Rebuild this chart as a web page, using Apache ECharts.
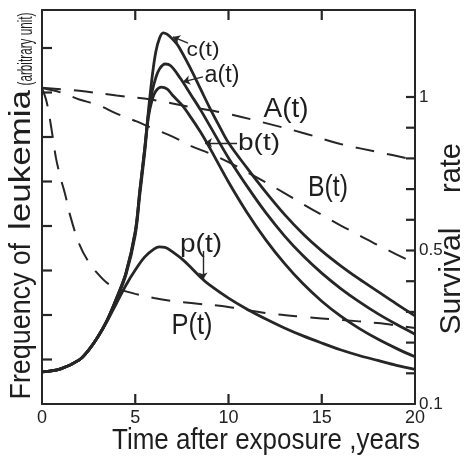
<!DOCTYPE html>
<html><head><meta charset="utf-8">
<script src="https://cdn.jsdelivr.net/npm/echarts@6.0.0/dist/echarts.min.js"></script>
<style>html,body{margin:0;padding:0;background:#fff}#c{width:465px;height:464px}</style>
</head><body><div id="c"></div>
<script>
// ---- data (time in years) ----
const xTicks = [0, 5, 10, 15, 20];
const xInnerTicks = [5, 10, 15];
const leftTicks = [1, 2, 3, 4, 5, 6, 7, 8];
const survivalTickSteps = [1, 2, 3, 4, 5, 6, 7, 8, 9, 10];
const survivalTickLabels = ['0.1', '0.5', '1'];

// leukemia frequency (arbitrary unit), left axis
const tC = [0,1,2,2.5,3,3.5,4,4.5,5,5.25,5.5,5.7,5.9,6.1,6.3,6.5,6.7,7,7.3,8,8.5,9,9.5,10,11,12,13,14,15,16,17,18,19,20];
const fC = [0.72,0.79,0.99,1.21,1.51,1.89,2.38,2.94,3.87,4.81,5.71,6.56,7.33,7.91,8.22,8.34,8.31,8.20,8.05,7.51,7.08,6.65,6.25,5.87,5.30,4.76,4.26,3.82,3.44,3.11,2.81,2.53,2.25,1.98];
const tA = [0,1,2,2.5,3,3.5,4,4.5,5,5.25,5.5,5.7,5.9,6.1,6.3,6.6,6.9,7.4,8,8.5,9,10,11,12,13,14,15,16,17,18,19,20];
const fA = [0.72,0.79,0.99,1.21,1.51,1.89,2.38,2.94,3.87,4.81,5.71,6.49,7.01,7.33,7.53,7.64,7.60,7.33,6.94,6.61,6.25,5.53,4.89,4.30,3.78,3.33,2.94,2.60,2.30,2.03,1.79,1.57];
const tB = [0,1,2,2.5,3,3.5,4,4.5,5,5.25,5.5,5.7,5.9,6.1,6.4,6.7,7,7.5,8,8.5,9,10,11,12,13,14,15,16,17,18,19,20];
const fB = [0.72,0.79,0.99,1.21,1.51,1.88,2.36,2.90,3.80,4.72,5.62,6.43,6.83,7.03,7.12,7.08,6.94,6.72,6.43,6.11,5.75,4.99,4.30,3.69,3.16,2.70,2.31,1.98,1.70,1.46,1.25,1.06];
const tP = [0,1,2,2.5,3,3.5,4,4.5,5,5.5,6,6.3,6.6,7,7.5,8,8.5,9,10,11,12,13,14,15,16,17,18,19,20];
const fP = [0.72,0.79,0.99,1.21,1.51,1.87,2.27,2.67,3.01,3.30,3.48,3.53,3.52,3.42,3.26,3.06,2.85,2.67,2.38,2.13,1.91,1.71,1.53,1.37,1.22,1.09,0.98,0.87,0.78];

// survival rate, right axis
const tSA = [0,2,4,6,8,10,12,14,16,18,20];
const sA  = [1.03,1.02,1.005,0.99,0.967,0.945,0.915,0.883,0.847,0.821,0.795];
const tSB = [0,1,2,3,4,5,6,7,8,9,10,11,12,13,14,15,16,17,18,19,20];
const sB  = [1.029,1.015,0.992,0.974,0.946,0.922,0.896,0.871,0.840,0.816,0.788,0.755,0.722,0.687,0.651,0.616,0.582,0.550,0.518,0.490,0.467];
const tSP = [0,0.25,0.5,0.75,1,1.25,1.5,2,2.5,3,3.5,4,5,6,7,8,10,12,14,16,18,20];
const sP  = [1.029,0.984,0.899,0.801,0.736,0.681,0.616,0.521,0.470,0.439,0.415,0.402,0.387,0.376,0.368,0.363,0.353,0.337,0.327,0.319,0.311,0.298];

// ---- helpers ----
const INK = '#262626';
const X_MAX = 20, LEFT_MAX = 8.854, RIGHT_MAX = 12.834;
const zip = (xs, ys) => xs.map((x, i) => [x, ys[i]]);
// right axis is drawn with 10 equal steps: 0.1 .. 0.5 (steps of 0.08), 0.5 .. 1 (steps of 0.1)
const survPos = s => s <= 0.5 ? (s - 0.1) / 0.08 : 5 + (s - 0.5) / 0.1;
const survLabelAt = {0: survivalTickLabels[0], 5: survivalTickLabels[1], 10: survivalTickLabels[2]};
const zipS = (xs, ys) => xs.map((x, i) => [x, survPos(ys[i])]);

const solid = (name, data) => ({
  name, type: 'line', data, yAxisIndex: 0, xAxisIndex: 0, showSymbol: false,
  smooth: 0.35, silent: true,
  lineStyle: {color: INK, width: 2.8}
});
const dashed = (name, data) => ({
  name, type: 'line', data, yAxisIndex: 1, xAxisIndex: 0, showSymbol: false,
  smooth: 0.35, silent: true,
  lineStyle: {color: INK, width: 2, type: [19, 13]}
});

const axisLineStyle = {color: INK, width: 2};
const labelFont = "'Liberation Sans Narrow','Liberation Sans',Arial,sans-serif";

const chart = echarts.init(document.getElementById('c'), null, {renderer: 'canvas'});
const seriesC = solid('c(t)', zip(tC, fC));
seriesC.markLine = {
  silent: true, animation: false, symbol: ['none', 'arrow'], symbolSize: 7,
  label: {show: false}, lineStyle: {color: INK, width: 1.4, type: 'solid'},
  data: [
    [{coord: [7.83, 8.11]}, {coord: [7.02, 8.25]}],
    [{coord: [8.63, 7.35]}, {coord: [7.56, 7.24]}],
    [{coord: [10.46, 5.87]}, {coord: [8.74, 5.87]}],
    [{coord: [8.63, 3.44]}, {coord: [8.63, 2.80]}]
  ]
};

chart.setOption({
  animation: false,
  backgroundColor: '#fff',
  grid: {left: 42, right: 50, top: 10, bottom: 60},
  xAxis: [
    {type: 'value', min: 0, max: X_MAX, interval: 5, position: 'bottom',
     axisLine: {show: true, onZero: false, lineStyle: axisLineStyle}, splitLine: {show: false},
     axisTick: {show: false},
     axisLabel: {show: true, fontSize: 18, color: '#222', margin: 5, fontFamily: labelFont,
                 formatter: v => xTicks.includes(v) ? String(v) : ''}},
    {type: 'value', min: 0, max: X_MAX, interval: 5, position: 'top',
     axisLine: {show: true, onZero: false, lineStyle: axisLineStyle}, splitLine: {show: false},
     axisTick: {show: false}, axisLabel: {show: false}}
  ],
  yAxis: [
    {type: 'value', min: 0, max: LEFT_MAX, position: 'left',
     axisLine: {show: true, onZero: false, lineStyle: axisLineStyle}, splitLine: {show: false},
     axisTick: {show: false}, axisLabel: {show: false}},
    {type: 'value', min: 0, max: RIGHT_MAX, position: 'right',
     axisLine: {show: true, onZero: false, lineStyle: axisLineStyle}, splitLine: {show: false},
     axisTick: {show: false},
     axisLabel: {show: true, inside: false, margin: 4, fontSize: 17, color: '#222',
                 fontFamily: labelFont, customValues: [0, 5, 10],
                 formatter: v => survLabelAt[Math.round(v)] || ''}}
  ],
  series: [
    seriesC,
    solid('a(t)', zip(tA, fA)),
    solid('b(t)', zip(tB, fB)),
    solid('p(t)', zip(tP, fP)),
    dashed('A(t)', zipS(tSA, sA)),
    dashed('B(t)', zipS(tSB, sB)),
    dashed('P(t)', zipS(tSP, sP))
  ]
});

// ---- inward tick marks, placed through the axis scales ----
const gridTicks = [];
const seg = (p, dx, dy) => ({type: 'line', silent: true, z: 50,
  shape: {x1: p[0], y1: p[1], x2: p[0] + dx, y2: p[1] + dy},
  style: {stroke: INK, lineWidth: 2.2}});
xInnerTicks.forEach(v => {
  gridTicks.push(seg(chart.convertToPixel({xAxisIndex: 0, yAxisIndex: 0}, [v, 0]), 0, -10));
  gridTicks.push(seg(chart.convertToPixel({xAxisIndex: 0, yAxisIndex: 0}, [v, LEFT_MAX]), 0, 10));
});
leftTicks.forEach(v => gridTicks.push(seg(chart.convertToPixel({xAxisIndex: 0, yAxisIndex: 0}, [0, v]), 10, 0)));
survivalTickSteps.forEach(v => gridTicks.push(seg(chart.convertToPixel({xAxisIndex: 0, yAxisIndex: 1}, [X_MAX, v]), -9, 0)));

// ---- text annotations ----
const mctx = document.createElement('canvas').getContext('2d');
const FAM = "'Liberation Sans', Arial, sans-serif";
function fit(text, cx, cy, w, size, rot) {
  mctx.font = size + 'px ' + FAM;
  const mw = mctx.measureText(text).width;
  return {type: 'text', x: cx, y: cy, rotation: rot || 0, scaleX: w / mw, silent: true,
          style: {text, fontSize: size, fontFamily: FAM, fill: '#1e1e1e',
                  align: 'center', verticalAlign: 'middle'}};
}
const R = Math.PI / 2;
chart.setOption({
  graphic: gridTicks.concat([
    fit('Time after exposure ,years', 266, 441, 308, 30, 0),
    fit('Frequency', 22, 336, 127, 30, R),
    fit('of', 22, 254, 22, 30, R),
    fit('leukemia', 22, 160, 140, 30, R),
    fit('(arbitrary unit)', 26, 49, 73, 20, R),
    fit('Survival', 452, 281, 107, 30, R),
    fit('rate', 452, 168, 50, 30, R),
    fit('c(t)', 203, 50, 33, 21, 0),
    fit('a(t)', 222, 76, 35, 23, 0),
    fit('b(t)', 259, 143, 42, 24, 0),
    fit('A(t)', 286, 110, 45, 27, 0),
    fit('B(t)', 328, 188, 40, 29, 0),
    fit('p(t)', 201, 245, 42, 25, 0),
    fit('P(t)', 192, 326, 41, 29, 0)
  ])
});
</script></body></html>
